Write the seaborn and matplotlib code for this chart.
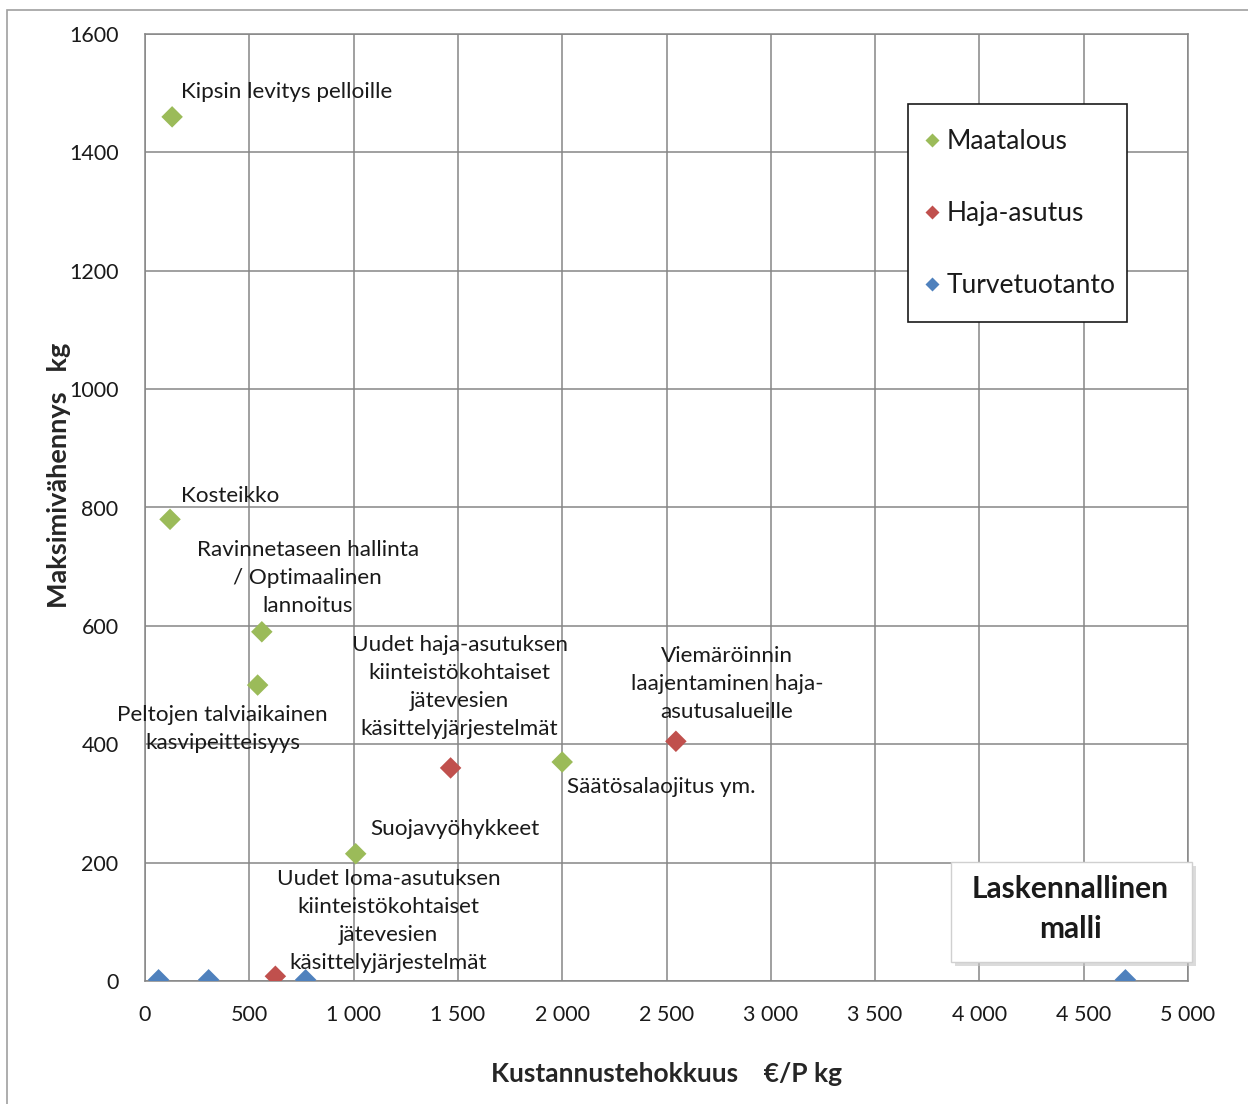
import matplotlib
matplotlib.use("Agg")
import matplotlib.pyplot as plt
from matplotlib.patches import Rectangle
from matplotlib.ticker import FuncFormatter, MultipleLocator
import seaborn as sns
import pandas as pd

# Measures: cost efficiency (€/P kg) and maximum reduction (kg)
maatalous_names = ["Kipsin levitys pelloille", "Kosteikko",
                   "Ravinnetaseen hallinta\n/ Optimaalinen\nlannoitus",
                   "Peltojen talviaikainen\nkasvipeitteisyys",
                   "Säätösalaojitus ym.", "Suojavyöhykkeet"]
maatalous_cost = [130, 120, 560, 540, 2000, 1010]
maatalous_kg = [1460, 780, 590, 500, 370, 215]

haja_names = ["Uudet haja-asutuksen\nkiinteistökohtaiset\njätevesien\nkäsittelyjärjestelmät",
              "Viemäröinnin\nlaajentaminen haja-\nasutusalueille",
              "Uudet loma-asutuksen\nkiinteistökohtaiset\njätevesien\nkäsittelyjärjestelmät"]
haja_cost = [1465, 2545, 625]
haja_kg = [360, 405, 8]

turve_cost = [65, 305, 770, 4700]
turve_kg = [2, 2, 2, 2]

groups = ["Maatalous", "Haja-asutus", "Turvetuotanto"]
colors = ["#9BBB59", "#C0504D", "#4F81BD"]

df = pd.DataFrame({
    "cost": maatalous_cost + haja_cost + turve_cost,
    "kg": maatalous_kg + haja_kg + turve_kg,
    "group": [groups[0]] * len(maatalous_cost) + [groups[1]] * len(haja_cost)
             + [groups[2]] * len(turve_cost),
})

sns.set_theme(style="white")
plt.rcParams["font.family"] = ["Lato", "DejaVu Sans"]

W, H = 1248, 1104
fig = plt.figure(figsize=(W / 100, H / 100), dpi=100)
ax = fig.add_axes([145 / W, 1 - 981 / H, (1188 - 145) / W, (981 - 34) / H])

sns.scatterplot(data=df, x="cost", y="kg", hue="group", hue_order=groups,
                palette=colors, marker="D", s=120, edgecolor="none",
                ax=ax, zorder=3, legend=False)

ax.set_xlim(0, 5000)
ax.set_ylim(0, 1600)
ax.xaxis.set_major_locator(MultipleLocator(500))
ax.yaxis.set_major_locator(MultipleLocator(200))
ax.xaxis.set_major_formatter(FuncFormatter(lambda v, p: f"{int(v):,}".replace(",", " ")))
ax.yaxis.set_major_formatter(FuncFormatter(lambda v, p: f"{int(v)}"))
ax.grid(True, color="#868686", linewidth=1.1)
ax.set_axisbelow(True)
for side in ["left", "bottom", "top", "right"]:
    ax.spines[side].set_color("#868686")
    ax.spines[side].set_linewidth(1.1)
ax.tick_params(axis="both", direction="out", length=7, width=1.1, color="#868686",
               labelsize=15.5, labelcolor="#1a1a1a", pad=6)
ax.tick_params(axis="x", pad=10)
ax.tick_params(axis="y", pad=12)

ax.set_xlabel("Kustannustehokkuus    €/P kg", fontsize=19, fontweight="bold",
              labelpad=27)
ax.set_ylabel("Maksimivähennys   kg", fontsize=19.5, fontweight="bold")
ax.yaxis.set_label_coords(-0.071, 0.534)

# Point labels
lab_kw = dict(textcoords="offset pixels", fontsize=16.2, color="#1a1a1a",
              linespacing=1.5, zorder=4)
m_off = [((9, 25), "left"), ((11, 23), "left"), ((46, 54), "center"),
         ((-35, -44), "center"), ((5, -25), "left"), ((99, 25), "center")]
for name, x, y, (off, ha) in zip(maatalous_names, maatalous_cost, maatalous_kg, m_off):
    ax.annotate(name, (x, y), xytext=off, ha=ha, va="center",
                multialignment="center", **lab_kw)
h_off = [(9, 81), (51, 57), (113, 55)]
for name, x, y, off in zip(haja_names, haja_cost, haja_kg, h_off):
    ax.annotate(name, (x, y), xytext=off, ha="center", va="center",
                multialignment="center", **lab_kw)

# Legend: entries placed without a frame, box drawn separately
handles = [plt.Line2D([], [], marker="D", linestyle="none", markersize=7,
                      markerfacecolor=c, markeredgecolor="none") for c in colors]
leg = fig.legend(handles, groups, loc="upper left",
                 bbox_to_anchor=(925 / W, 1 - 129 / H), borderaxespad=0,
                 fontsize=19, frameon=False, labelspacing=1.78,
                 handlelength=0.5, handletextpad=0.32, borderpad=0)
for t in leg.get_texts():
    t.set_color("#1a1a1a")
fig.patches.append(Rectangle((908 / W, 1 - 322 / H), 219 / W, 218 / H,
                             transform=fig.transFigure, facecolor="white",
                             edgecolor="#1a1a1a", linewidth=1.2, zorder=1))

# Model note box with shadow
bx, by, bw, bh = 951, 862, 241, 100
fig.patches.append(Rectangle(((bx + 4) / W, 1 - (by + bh + 4) / H), bw / W, bh / H,
                             transform=fig.transFigure, facecolor="#c4c4c4",
                             edgecolor="none", alpha=0.6, zorder=5))
fig.patches.append(Rectangle((bx / W, 1 - (by + bh) / H), bw / W, bh / H,
                             transform=fig.transFigure, facecolor="white",
                             edgecolor="#d0d0d0", linewidth=1, zorder=6))
fig.text((bx + bw / 2 - 1) / W, 1 - (by + bh / 2 - 3) / H, "Laskennallinen\nmalli",
         ha="center", va="center", fontsize=21.5, fontweight="bold",
         color="#1a1a1a", linespacing=1.55, zorder=7)

# Outer chart frame
fig.patches.append(Rectangle((7 / W, -0.05), 1.1, 1 - 10 / H + 0.05,
                             transform=fig.transFigure, facecolor="none",
                             edgecolor="#a0a0a0", linewidth=1.2, zorder=0))

fig.savefig("out.png", dpi=100)
